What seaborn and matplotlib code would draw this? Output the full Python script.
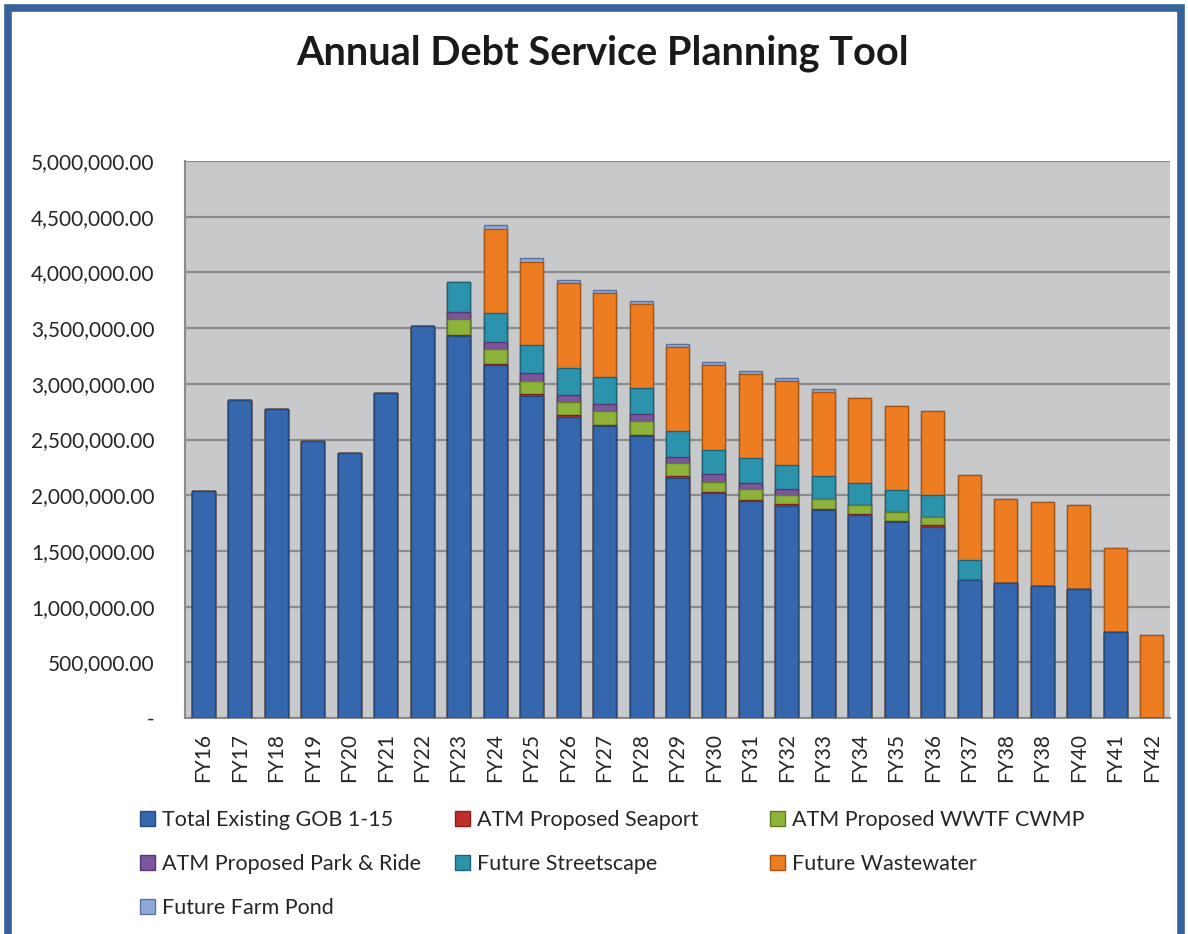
import pandas as pd
import numpy as np
import matplotlib
matplotlib.use("Agg")
import matplotlib.pyplot as plt
import seaborn as sns
from matplotlib.patches import Patch, Rectangle
from matplotlib.ticker import FuncFormatter

# Data
years = ["FY16", "FY17", "FY18", "FY19", "FY20", "FY21", "FY22", "FY23", "FY24",
         "FY25", "FY26", "FY27", "FY28", "FY29", "FY30", "FY31", "FY32", "FY33",
         "FY34", "FY35", "FY36", "FY37", "FY38", "FY38", "FY40", "FY41", "FY42"]

gob = [2038000, 2857000, 2777000, 2487000, 2379000, 2918000, 3522000, 3429000,
       3166000, 2893000, 2705000, 2621000, 2532000, 2157000, 2017000, 1948000,
       1906000, 1867000, 1820000, 1757000, 1717000, 1239000, 1209000, 1185000,
       1161000, 775000, 0]
seaport = [0] * 7 + [12000] * 14 + [0] * 6
wwtf = [0] * 7 + [138000, 132000, 123000, 117000, 123000, 122000, 117000, 92000,
                  93000, 81000, 84000, 80000, 80000, 78000] + [0] * 6
park_ride = [0] * 7 + [66000, 63000, 66000, 63000, 60000, 60000, 57000, 69000,
                       54000, 54000] + [0] * 10
streetscape = [0] * 7 + [269000, 260000, 254000, 245000, 242000, 234000, 233000,
                         216000, 224000, 218000, 209000, 195000, 195000, 195000,
                         179000] + [0] * 5
wastewater = [0] * 8 + [757000, 748000, 760000, 754000, 756000, 752000, 763000,
                        757000, 754000, 752000, 763000, 757000, 757000, 761000,
                        757000, 757000, 751000, 754000, 745000]
farm_pond = [0] * 8 + [33000, 36000, 30000, 30000, 30000, 30000, 27000, 27000,
                       27000, 27000] + [0] * 9

series = [
    ("Total Existing GOB 1-15", gob, "#3467AE", "#244a80"),
    ("ATM Proposed Seaport", seaport, "#C0302A", "#8a1f1a"),
    ("ATM Proposed WWTF CWMP", wwtf, "#8DB33A", "#5f7c24"),
    ("ATM Proposed Park & Ride", park_ride, "#7A569F", "#54396f"),
    ("Future Streetscape", streetscape, "#2C93AD", "#1d6478"),
    ("Future Wastewater", wastewater, "#EE7D22", "#a85512"),
    ("Future Farm Pond", farm_pond, "#8EAADB", "#5a73a0"),
]

df = pd.DataFrame({"pos": np.arange(len(years))})
running = np.zeros(len(years))
for name, vals, c, ec in series:
    running = running + np.array(vals, dtype=float)
    df[name] = running

sns.set_theme(style="white")
plt.rcParams["font.family"] = ["Lato", "DejaVu Sans"]

fig = plt.figure(figsize=(11.88, 9.34), dpi=100)
ax = fig.add_axes([185 / 1188, 1 - 718 / 934, (1170 - 185) / 1188, (718 - 161) / 934])
ax.set_facecolor("#C8C9CB")

# stacked bars: draw cumulative totals from the top layer down
for name, vals, c, ec in reversed(series):
    sns.barplot(data=df, x="pos", y=name, color=c, saturation=1, width=0.63,
                edgecolor=ec, linewidth=1, errorbar=None, ax=ax, zorder=3)

ax.set_ylim(0, 5000000)
ax.set_xlim(-0.5, len(years) - 0.5)
ax.set_yticks(np.arange(0, 5000001, 500000))
ax.yaxis.set_major_formatter(FuncFormatter(lambda v, p: "-" if v == 0 else f"{v:,.2f}"))
ax.set_xticks(np.arange(len(years)))
ax.set_xticklabels(years, rotation=90)
ax.grid(axis="y", color="#8C8C8C", linewidth=1.6, zorder=0)
ax.set_axisbelow(True)
ax.set_xlabel("")
ax.set_ylabel("")
ax.tick_params(axis="both", length=0, labelsize=15, colors="#262626")
ax.tick_params(axis="y", pad=22)
ax.tick_params(axis="x", pad=11)
for s in ["top", "right"]:
    ax.spines[s].set_visible(False)
for s in ["left", "bottom"]:
    ax.spines[s].set_color("#8C8C8C")
    ax.spines[s].set_linewidth(1.5)

fig.text(0.507, 1 - 53 / 934, "Annual Debt Service Planning Tool", ha="center",
         va="center", fontsize=28.5, fontweight="bold", color="#1a1a1a")

# legend: three columns placed like the original
handles = {name: Patch(facecolor=c, edgecolor=ec) for name, vals, c, ec in series}
columns = [
    (["Total Existing GOB 1-15", "ATM Proposed Park & Ride", "Future Farm Pond"], 121),
    (["ATM Proposed Seaport", "Future Streetscape"], 436),
    (["ATM Proposed WWTF CWMP", "Future Wastewater"], 751),
]
for labels, x0 in columns:
    fig.legend([handles[o] for o in labels], labels, loc="upper left",
               bbox_to_anchor=(x0 / 1188, 1 - 791 / 934), frameon=False,
               fontsize=15.5, handlelength=0.7, handleheight=0.7,
               handletextpad=0.3, labelspacing=1.1, labelcolor="#262626")

# blue frame around the chart
fig.add_artist(Rectangle((7.5 / 1188, -0.1), 1 - 15 / 1188, 1.1 - 7.5 / 934,
                         transform=fig.transFigure, fill=False,
                         edgecolor="#35629A", linewidth=5.5))

fig.savefig("out.png", dpi=100)
